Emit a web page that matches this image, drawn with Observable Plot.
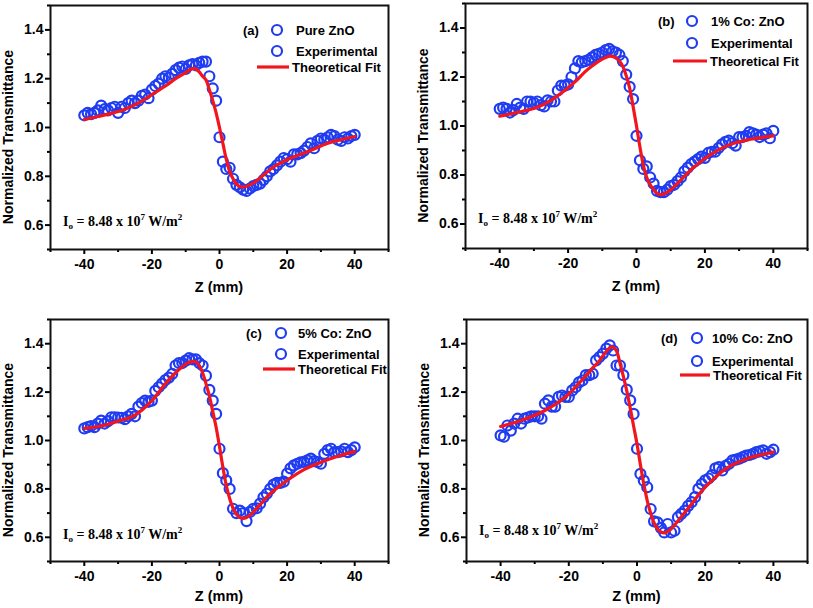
<!DOCTYPE html>
<html>
<head>
<meta charset="utf-8">
<script src="https://cdn.jsdelivr.net/npm/d3@7"></script>
<script src="https://cdn.jsdelivr.net/npm/@observablehq/plot@0.6"></script>
<style>
  body { margin: 0; background: #fff; }
  #wrap { position: relative; width: 813px; height: 608px; overflow: hidden; background: #fff; }
  #wrap svg { position: absolute; }
</style>
</head>
<body>
<div id="wrap"></div>
<script>
// ---------------- data ----------------
const panelTags = ["(a)", "(b)", "(c)", "(d)"];
const sampleNames = ["Pure ZnO", "1% Co: ZnO", "5% Co: ZnO", "10% Co: ZnO"];
const seriesExp = "Experimental";
const seriesFit = "Theoretical Fit";
const xLabel = "Z (mm)";
const yLabel = "Normalized Transmittance";

const xTicks = [-40, -20, 0, 20, 40];
const xMinorTicks = [-50, -30, -10, 10, 30, 50];
const yTicks = [0.6, 0.8, 1.0, 1.2, 1.4];
const yMinorTicks = [0.5, 0.7, 0.9, 1.1, 1.3, 1.5];

const zExp = [-40,-39,-38,-37,-36,-35,-34,-33,-32,-31,-30,-29,-28,-27,-26,-25,-24,-23,-22,-21,
  -20,-19,-18,-17,-16,-15,-14,-13,-12,-11,-10,-9,-8,-7,-6,-5,-4,-3,-2,-1,
  0,1,2,3,4,5,6,7,8,9,10,11,12,13,14,15,16,17,18,19,20,
  21,22,23,24,25,26,27,28,29,30,31,32,33,34,35,36,37,38,39,40];

const tExpA = [1.05,1.06,1.055,1.06,1.07,1.09,1.075,1.07,1.08,1.085,1.06,1.085,1.08,1.10,1.11,1.10,1.11,1.13,1.135,1.12,
  1.155,1.17,1.18,1.20,1.21,1.205,1.22,1.235,1.245,1.25,1.24,1.255,1.26,1.255,1.265,1.27,1.27,1.21,1.16,1.11,
  0.96,0.86,0.83,0.835,0.79,0.765,0.755,0.745,0.74,0.75,0.76,0.765,0.77,0.785,0.80,0.82,0.83,0.845,0.86,0.875,0.87,
  0.86,0.89,0.89,0.895,0.905,0.92,0.935,0.915,0.945,0.955,0.95,0.96,0.97,0.965,0.95,0.945,0.96,0.955,0.965,0.97];

const tExpB = [1.07,1.075,1.07,1.055,1.065,1.09,1.075,1.07,1.10,1.10,1.095,1.10,1.085,1.08,1.105,1.10,1.10,1.145,1.165,1.165,
  1.17,1.20,1.235,1.265,1.26,1.265,1.27,1.28,1.29,1.295,1.30,1.31,1.315,1.305,1.30,1.29,1.265,1.21,1.16,1.11,
  0.96,0.86,0.825,0.835,0.79,0.765,0.735,0.73,0.73,0.74,0.755,0.76,0.775,0.79,0.815,0.83,0.845,0.855,0.865,0.875,0.87,
  0.89,0.895,0.895,0.91,0.925,0.935,0.94,0.93,0.92,0.955,0.955,0.96,0.975,0.97,0.965,0.955,0.965,0.97,0.95,0.98];

const tExpC = [1.05,1.055,1.06,1.055,1.07,1.082,1.07,1.08,1.096,1.096,1.095,1.094,1.088,1.10,1.11,1.10,1.14,1.155,1.165,1.16,
  1.165,1.205,1.22,1.235,1.25,1.26,1.275,1.31,1.32,1.32,1.33,1.34,1.335,1.335,1.32,1.31,1.268,1.209,1.165,1.11,
  0.966,0.865,0.835,0.80,0.718,0.70,0.71,0.70,0.667,0.705,0.718,0.72,0.739,0.765,0.78,0.80,0.818,0.825,0.825,0.83,0.863,
  0.885,0.897,0.904,0.91,0.912,0.918,0.925,0.915,0.911,0.904,0.945,0.96,0.966,0.952,0.952,0.955,0.966,0.952,0.96,0.972];

const tExpD = [1.021,1.016,1.062,1.041,1.07,1.09,1.07,1.09,1.095,1.10,1.10,1.10,1.09,1.152,1.166,1.14,1.14,1.18,1.186,1.18,
  1.18,1.207,1.22,1.24,1.248,1.27,1.27,1.276,1.331,1.345,1.359,1.38,1.393,1.372,1.31,1.31,1.27,1.21,1.166,1.11,
  0.966,0.862,0.834,0.807,0.717,0.666,0.662,0.639,0.62,0.655,0.62,0.627,0.683,0.697,0.71,0.73,0.745,0.766,0.80,0.82,0.835,
  0.843,0.857,0.885,0.89,0.876,0.895,0.904,0.918,0.921,0.925,0.931,0.938,0.94,0.945,0.952,0.955,0.959,0.945,0.952,0.962];

const zFitA = [-40,-36,-32,-28,-24,-20,-16,-13,-10,-8,-7,-6,-5,-4,-3,-2,-1,0,1,2,3,4,5,6,7.5,9,11,13,16,20,24,28,32,36,40];
const tFitA = [1.033,1.045,1.058,1.075,1.10,1.135,1.17,1.20,1.225,1.242,1.240,1.228,1.21,1.195,1.155,1.11,1.06,1.0,0.935,0.87,0.82,0.79,0.768,0.758,0.757,0.765,0.782,0.805,0.838,0.868,0.89,0.912,0.935,0.950,0.963];

const zFitB = [-40,-35,-29,-25,-21,-18,-15,-13,-11,-9,-7.5,-6,-5,-4,-3,-2,-1,0,1,2,3,4,5,6,7,8,10,13,17,22,27.5,33,40];
const tFitB = [1.04,1.055,1.077,1.105,1.145,1.18,1.222,1.245,1.265,1.28,1.285,1.278,1.265,1.243,1.205,1.155,1.08,1.0,0.915,0.84,0.79,0.76,0.74,0.725,0.72,0.722,0.74,0.78,0.835,0.886,0.925,0.945,0.96];

const zFitC = [-40,-35,-30,-25,-20,-16,-13,-11,-9.5,-8,-7,-6,-5,-4,-3,-2,-1,0,1,2,3,4,5,6,7,8,9.5,12,15,20,25,30,35,40];
const tFitC = [1.05,1.06,1.08,1.105,1.165,1.235,1.28,1.305,1.32,1.327,1.325,1.31,1.28,1.235,1.185,1.12,1.055,0.975,0.89,0.815,0.76,0.72,0.695,0.682,0.678,0.682,0.697,0.735,0.78,0.835,0.88,0.91,0.935,0.955];

const zFitD = [-40,-34,-27,-21,-16,-13,-11,-9.5,-8,-7,-6,-5,-4,-3,-2,-1,0,1,2,3,4,5,6,7,8,9.5,12,16,20,26,32,40];
const tFitD = [1.058,1.083,1.124,1.18,1.252,1.30,1.33,1.36,1.383,1.386,1.37,1.32,1.265,1.205,1.135,1.06,0.986,0.9,0.82,0.752,0.70,0.66,0.635,0.622,0.618,0.628,0.667,0.738,0.807,0.883,0.924,0.952];

// ---------------- layout / style ----------------
const BLUE = "#1f3cf2";
const RED = "#f2161c";
const FONT = "'Liberation Sans', Arial, sans-serif";
const SERIF = "'Liberation Serif', 'Times New Roman', serif";

const panels = [
  {tag: panelTags[0], name: sampleNames[0], exp: tExpA, fz: zFitA, ft: tFitA,
   left: 0, top: 0, width: 406, height: 300, mL: 50, mR: 18, mT: 5, mB: 51, xlab: 43, annDy: 1,
   leg: {lab: -145, circ: -111, txt: -92, l1: -131, l2: -99, rows: [25, 46, 62]}},
  {tag: panelTags[1], name: sampleNames[1], exp: tExpB, fz: zFitB, ft: tFitB,
   left: 406, top: 0, width: 407, height: 300, mL: 59, mR: 6, mT: 3, mB: 52, xlab: 43, annDy: -1,
   leg: {lab: -149, circ: -115, txt: -96, l1: -134, l2: -100, rows: [18, 40, 58]}},
  {tag: panelTags[2], name: sampleNames[2], exp: tExpC, fz: zFitC, ft: tFitC,
   left: 0, top: 300, width: 406, height: 308, mL: 50, mR: 18, mT: 19, mB: 47, xlab: 40, annDy: 2,
   leg: {lab: -142, circ: -107, txt: -90, l1: -125, l2: -93, rows: [14, 35, 50]}},
  {tag: panelTags[3], name: sampleNames[3], exp: tExpD, fz: zFitD, ft: tFitD,
   left: 406, top: 300, width: 407, height: 308, mL: 60, mR: 6, mT: 19, mB: 47, xlab: 40, annDy: -2,
   leg: {lab: -146, circ: -110, txt: -95, l1: -127, l2: -97, rows: [19, 42, 56]}}
];

const wrap = document.getElementById("wrap");

for (const P of panels) {
  const expData = zExp.map((z, i) => ({z, t: P.exp[i]}));
  const fitData = P.fz.map((z, i) => ({z, t: P.ft[i]}));

  const plot = Plot.plot({
    width: P.width, height: P.height,
    marginLeft: P.mL, marginRight: P.mR, marginTop: P.mT, marginBottom: P.mB,
    x: {domain: [-50, 50]},
    y: {domain: [0.5, 1.5]},
    style: {fontFamily: FONT, fontSize: "14px", fontWeight: "bold", color: "#000", background: "transparent", overflow: "visible"},
    marks: [
      Plot.axisX({ticks: xMinorTicks, tickSize: 3, tickFormat: () => "", label: null, strokeWidth: 2}),
      Plot.axisX({ticks: xTicks, tickSize: 5, tickPadding: 5, tickFormat: d => String(d), label: null,
                  strokeWidth: 2, fontSize: 14, fontWeight: "bold"}),
      Plot.axisY({ticks: yMinorTicks, tickSize: 3, tickFormat: () => "", label: null, strokeWidth: 2}),
      Plot.axisY({ticks: yTicks, tickSize: 5, tickPadding: 2, tickFormat: d3.format(".1f"), label: null,
                  strokeWidth: 2, fontSize: 14, fontWeight: "bold"}),
      Plot.dot(expData, {x: "z", y: "t", r: 5, stroke: BLUE, strokeWidth: 2.2, fill: "none"}),
      Plot.line(fitData, {x: "z", y: "t", stroke: RED, strokeWidth: 3.2, curve: "catmull-rom"}),
      Plot.frame({stroke: "#111", strokeWidth: 2})
    ]
  });

  plot.style.left = P.left + "px";
  plot.style.top = P.top + "px";
  wrap.appendChild(plot);

  const sx = plot.scale("x"), sy = plot.scale("y");
  const svg = d3.select(plot);
  const L = P.mL, R = P.width - P.mR, T = P.mT, B = P.height - P.mB;

  // axis titles
  svg.append("text")
    .attr("transform", `translate(${L - 37},${(T + B) / 2 + 10}) rotate(-90)`)
    .attr("text-anchor", "middle")
    .attr("font-family", FONT).attr("font-weight", "bold").attr("font-size", 14)
    .attr("fill", "#000")
    .text(yLabel);
  svg.append("text")
    .attr("x", sx.apply(0)).attr("y", B + P.xlab)
    .attr("text-anchor", "middle")
    .attr("font-family", FONT).attr("font-weight", "bold").attr("font-size", 14.5)
    .attr("fill", "#000")
    .text(xLabel);

  // intensity annotation
  const ann = svg.append("text")
    .attr("x", L + 13).attr("y", sy.apply(0.6) + P.annDy)
    .attr("text-anchor", "start")
    .attr("font-family", SERIF).attr("font-weight", "bold").attr("font-size", 14)
    .attr("fill", "#000");
  ann.append("tspan").text("I");
  ann.append("tspan").attr("font-size", 9).attr("dy", 3).text("o");
  ann.append("tspan").attr("dy", -3).text(" = 8.48 x 10");
  ann.append("tspan").attr("font-size", 9).attr("dy", -6).text("7");
  ann.append("tspan").attr("dy", 6).text(" W/m");
  ann.append("tspan").attr("font-size", 9).attr("dy", -6).text("2");

  // legend
  const g = svg.append("g")
    .attr("text-anchor", "start")
    .attr("font-family", FONT).attr("font-weight", "bold").attr("font-size", 13).attr("fill", "#000");
  const lg = P.leg;
  g.append("text").attr("x", R + lg.lab).attr("y", T + lg.rows[0] + 4.5).text(P.tag);
  g.append("circle").attr("cx", R + lg.circ).attr("cy", T + lg.rows[0]).attr("r", 5)
    .attr("fill", "none").attr("stroke", BLUE).attr("stroke-width", 2.2);
  g.append("text").attr("x", R + lg.txt).attr("y", T + lg.rows[0] + 4.5).text(P.name);
  g.append("circle").attr("cx", R + lg.circ).attr("cy", T + lg.rows[1]).attr("r", 5)
    .attr("fill", "none").attr("stroke", BLUE).attr("stroke-width", 2.2);
  g.append("text").attr("x", R + lg.txt).attr("y", T + lg.rows[1] + 4.5).text(seriesExp);
  g.append("line").attr("x1", R + lg.l1).attr("x2", R + lg.l2)
    .attr("y1", T + lg.rows[2]).attr("y2", T + lg.rows[2])
    .attr("stroke", RED).attr("stroke-width", 3.2);
  g.append("text").attr("x", R + lg.l2 + 3).attr("y", T + lg.rows[2] + 4.5).text(seriesFit);
}
</script>
</body>
</html>
